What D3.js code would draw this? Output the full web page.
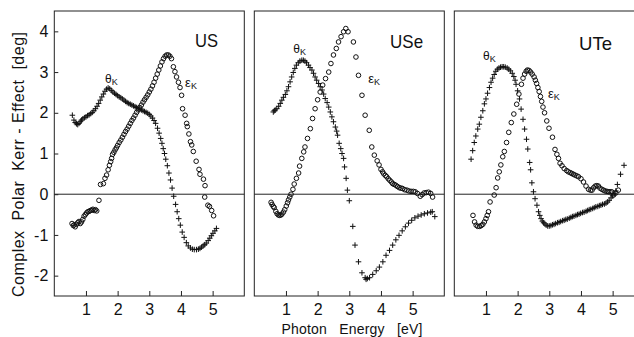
<!DOCTYPE html>
<html><head><meta charset="utf-8">
<script src="https://cdn.jsdelivr.net/npm/d3@7/dist/d3.min.js"></script>
<style>
body{margin:0;background:#fff}
svg{display:block}
text{font-family:"Liberation Sans",Arial,Helvetica,sans-serif;fill:#111}
</style>
</head><body><svg id="c" width="634" height="337"></svg>
<script>
// ---------------- data ----------------
const compounds = ["US", "USe", "UTe"];
const xTicks = [1, 2, 3, 4, 5];
const yTicks = [-2, -1, 0, 1, 2, 3, 4];
const yTickLabels = ["-2", "-1", "0", "1", "2", "3", "4"];

// US: Kerr rotation theta_K (+) and ellipticity eps_K (o), [eV, deg]
const usTheta = [[0.57,1.94],[0.62,1.82],[0.66,1.76],[0.70,1.73],[0.74,1.71],[0.78,1.74],[0.82,1.78],[0.86,1.82],[0.90,1.85],[0.95,1.88],[1.00,1.90],[1.05,1.93],[1.10,1.95],[1.15,1.98],[1.20,2.01],[1.25,2.05],[1.30,2.10],[1.35,2.16],[1.40,2.23],[1.45,2.31],[1.50,2.39],[1.55,2.46],[1.60,2.53],[1.65,2.58],[1.70,2.61],[1.75,2.59],[1.80,2.55],[1.85,2.51],[1.90,2.48],[1.95,2.45],[2.00,2.42],[2.05,2.39],[2.10,2.37],[2.15,2.34],[2.20,2.31],[2.25,2.28],[2.30,2.25],[2.35,2.23],[2.40,2.21],[2.45,2.19],[2.50,2.17],[2.55,2.15],[2.60,2.13],[2.65,2.11],[2.70,2.09],[2.75,2.07],[2.80,2.05],[2.85,2.03],[2.90,2.01],[2.95,1.99],[3.00,1.96],[3.05,1.92],[3.10,1.87],[3.15,1.81],[3.20,1.74],[3.26,1.62],[3.31,1.50],[3.36,1.37],[3.40,1.25],[3.44,1.12],[3.48,1.00],[3.52,0.86],[3.57,0.70],[3.62,0.52],[3.67,0.35],[3.72,0.15],[3.77,-0.05],[3.83,-0.25],[3.88,-0.43],[3.93,-0.60],[3.98,-0.76],[4.04,-0.93],[4.10,-1.06],[4.17,-1.19],[4.23,-1.27],[4.30,-1.32],[4.36,-1.35],[4.42,-1.36],[4.49,-1.36],[4.55,-1.35],[4.60,-1.33],[4.65,-1.30],[4.70,-1.27],[4.75,-1.24],[4.80,-1.20],[4.86,-1.14],[4.91,-1.08],[4.96,-1.02],[5.01,-0.96],[5.07,-0.90],[5.12,-0.84]];
const usEps = [[0.56,-0.72],[0.60,-0.77],[0.63,-0.75],[0.66,-0.80],[0.70,-0.74],[0.74,-0.70],[0.78,-0.67],[0.82,-0.72],[0.86,-0.68],[0.90,-0.62],[0.94,-0.54],[0.98,-0.50],[1.02,-0.46],[1.06,-0.43],[1.10,-0.42],[1.14,-0.40],[1.18,-0.39],[1.22,-0.37],[1.26,-0.40],[1.30,-0.38],[1.34,-0.41],[1.41,-0.15],[1.46,0.24],[1.55,0.26],[1.60,0.39],[1.65,0.47],[1.70,0.60],[1.74,0.71],[1.78,0.80],[1.81,0.88],[1.84,0.98],[1.88,1.03],[1.92,1.09],[1.96,1.14],[2.00,1.20],[2.05,1.27],[2.10,1.33],[2.15,1.40],[2.20,1.47],[2.25,1.54],[2.30,1.60],[2.35,1.67],[2.40,1.74],[2.45,1.81],[2.50,1.87],[2.55,1.94],[2.60,2.01],[2.65,2.07],[2.70,2.13],[2.75,2.19],[2.80,2.26],[2.85,2.32],[2.90,2.38],[2.95,2.44],[3.00,2.51],[3.05,2.58],[3.10,2.66],[3.15,2.75],[3.20,2.85],[3.25,2.95],[3.30,3.05],[3.35,3.15],[3.40,3.25],[3.45,3.33],[3.50,3.39],[3.55,3.42],[3.60,3.42],[3.65,3.39],[3.70,3.33],[3.76,3.13],[3.81,3.01],[3.86,2.88],[3.92,2.75],[3.97,2.62],[4.02,2.43],[4.05,2.10],[4.13,1.94],[4.18,1.74],[4.20,1.66],[4.25,1.48],[4.30,1.29],[4.34,1.21],[4.39,1.05],[4.48,0.81],[4.57,0.61],[4.60,0.49],[4.71,0.37],[4.76,0.21],[4.75,-0.07],[4.85,-0.27],[4.90,-0.30],[4.97,-0.40],[5.03,-0.53]];

// USe
const useTheta = [[0.60,2.02],[0.63,2.05],[0.66,2.07],[0.71,2.10],[0.77,2.16],[0.82,2.23],[0.87,2.31],[0.92,2.38],[0.98,2.45],[1.03,2.54],[1.08,2.64],[1.13,2.76],[1.18,2.88],[1.23,2.99],[1.28,3.09],[1.33,3.17],[1.39,3.23],[1.44,3.27],[1.50,3.29],[1.55,3.29],[1.60,3.27],[1.65,3.23],[1.71,3.17],[1.76,3.11],[1.82,3.05],[1.87,2.97],[1.92,2.88],[1.97,2.80],[2.03,2.72],[2.08,2.64],[2.14,2.56],[2.19,2.46],[2.24,2.35],[2.30,2.25],[2.35,2.14],[2.40,2.02],[2.45,1.90],[2.50,1.78],[2.56,1.65],[2.60,1.55],[2.63,1.45],[2.68,1.25],[2.73,1.12],[2.77,1.00],[2.82,0.88],[2.85,0.67],[2.90,0.39],[2.94,0.10],[3.00,-0.16],[3.11,-0.79],[3.18,-1.25],[3.29,-1.66],[3.40,-1.93],[3.50,-2.05],[3.53,-2.09],[3.57,-2.07],[3.64,-2.05],[3.74,-1.97],[3.85,-1.88],[3.95,-1.79],[4.06,-1.66],[4.16,-1.50],[4.27,-1.38],[4.37,-1.25],[4.47,-1.12],[4.57,-1.01],[4.67,-0.90],[4.77,-0.80],[4.87,-0.71],[4.97,-0.64],[5.07,-0.58],[5.17,-0.54],[5.27,-0.51],[5.37,-0.48],[5.47,-0.46],[5.57,-0.44],[5.62,-0.43],[5.70,-0.55]];
const useEps = [[0.53,-0.20],[0.56,-0.25],[0.60,-0.30],[0.63,-0.33],[0.68,-0.42],[0.72,-0.48],[0.76,-0.51],[0.80,-0.52],[0.84,-0.51],[0.87,-0.49],[0.92,-0.44],[0.96,-0.38],[1.01,-0.29],[1.05,-0.21],[1.08,-0.14],[1.12,-0.07],[1.16,0.00],[1.22,0.12],[1.26,0.25],[1.33,0.39],[1.40,0.52],[1.43,0.69],[1.50,0.88],[1.56,1.04],[1.60,1.16],[1.68,1.37],[1.77,1.61],[1.84,1.86],[1.92,2.10],[2.00,2.32],[2.08,2.51],[2.16,2.68],[2.25,2.84],[2.35,3.00],[2.42,3.21],[2.50,3.42],[2.59,3.58],[2.66,3.74],[2.74,3.87],[2.82,3.99],[2.89,4.07],[2.96,3.99],[3.13,3.74],[3.21,3.37],[3.29,2.92],[3.40,2.43],[3.50,1.94],[3.63,1.57],[3.71,1.16],[3.79,0.96],[3.88,0.82],[3.94,0.72],[4.00,0.61],[4.05,0.55],[4.09,0.50],[4.14,0.46],[4.18,0.43],[4.23,0.38],[4.28,0.34],[4.33,0.30],[4.37,0.26],[4.42,0.24],[4.47,0.22],[4.52,0.19],[4.58,0.16],[4.63,0.15],[4.68,0.14],[4.75,0.11],[4.82,0.10],[4.88,0.08],[4.95,0.07],[5.02,0.07],[5.08,0.06],[5.15,0.02],[5.24,-0.05],[5.30,-0.01],[5.36,0.03],[5.43,0.04],[5.50,0.05],[5.57,0.02],[5.63,-0.07]];

// UTe
const uteTheta = [[0.53,0.86],[0.58,1.07],[0.63,1.27],[0.68,1.43],[0.74,1.60],[0.79,1.72],[0.84,1.89],[0.90,2.05],[0.95,2.22],[1.00,2.34],[1.05,2.48],[1.11,2.62],[1.16,2.75],[1.21,2.85],[1.26,2.94],[1.31,3.02],[1.36,3.07],[1.41,3.10],[1.46,3.12],[1.51,3.13],[1.56,3.13],[1.61,3.12],[1.67,3.10],[1.72,3.07],[1.77,3.03],[1.83,2.97],[1.88,2.89],[1.92,2.80],[1.95,2.70],[2.00,2.54],[2.06,2.34],[2.11,2.09],[2.17,1.84],[2.22,1.60],[2.28,1.35],[2.32,1.11],[2.38,0.78],[2.41,0.60],[2.45,0.28],[2.50,0.06],[2.55,-0.11],[2.61,-0.27],[2.66,-0.43],[2.70,-0.52],[2.74,-0.60],[2.78,-0.66],[2.82,-0.70],[2.86,-0.73],[2.90,-0.76],[2.95,-0.78],[3.00,-0.78],[3.05,-0.77],[3.10,-0.75],[3.15,-0.74],[3.20,-0.72],[3.26,-0.70],[3.31,-0.69],[3.36,-0.67],[3.42,-0.65],[3.47,-0.64],[3.52,-0.62],[3.57,-0.61],[3.63,-0.59],[3.68,-0.57],[3.73,-0.55],[3.78,-0.54],[3.84,-0.52],[3.89,-0.50],[3.94,-0.49],[3.99,-0.47],[4.05,-0.45],[4.10,-0.44],[4.16,-0.42],[4.21,-0.40],[4.26,-0.38],[4.31,-0.37],[4.37,-0.35],[4.42,-0.33],[4.47,-0.31],[4.53,-0.30],[4.58,-0.28],[4.63,-0.27],[4.68,-0.25],[4.74,-0.24],[4.79,-0.22],[4.84,-0.19],[4.89,-0.15],[4.95,-0.09],[5.00,-0.04],[5.05,0.01],[5.10,0.08],[5.15,0.24],[5.25,0.49],[5.36,0.71]];
const uteEps = [[0.59,-0.52],[0.64,-0.68],[0.69,-0.76],[0.74,-0.79],[0.80,-0.79],[0.85,-0.77],[0.90,-0.74],[0.95,-0.68],[1.00,-0.60],[1.04,-0.52],[1.08,-0.43],[1.13,-0.19],[1.26,-0.02],[1.32,0.16],[1.37,0.40],[1.42,0.55],[1.47,0.72],[1.53,0.92],[1.58,1.05],[1.65,1.27],[1.72,1.52],[1.80,1.76],[1.88,1.97],[1.97,2.21],[2.04,2.46],[2.12,2.70],[2.17,2.85],[2.22,2.95],[2.27,3.02],[2.31,3.05],[2.36,3.04],[2.41,3.00],[2.46,2.95],[2.52,2.88],[2.56,2.80],[2.60,2.72],[2.64,2.62],[2.68,2.52],[2.72,2.40],[2.76,2.28],[2.80,2.14],[2.85,2.00],[2.92,1.80],[2.99,1.62],[3.10,1.40],[3.18,1.10],[3.24,0.98],[3.29,0.88],[3.34,0.76],[3.40,0.70],[3.47,0.63],[3.55,0.58],[3.60,0.55],[3.66,0.53],[3.71,0.51],[3.76,0.49],[3.81,0.47],[3.87,0.45],[3.92,0.43],[4.00,0.38],[4.08,0.30],[4.16,0.20],[4.24,0.12],[4.30,0.10],[4.35,0.10],[4.40,0.16],[4.45,0.20],[4.50,0.21],[4.55,0.20],[4.60,0.15],[4.66,0.12],[4.71,0.10],[4.76,0.08],[4.82,0.07],[4.87,0.06],[4.92,0.06],[4.97,0.06],[5.03,-0.02],[5.10,0.03],[5.18,0.10]];

const thetaSets = [usTheta, useTheta, uteTheta];
const epsSets = [usEps, useEps, uteEps];

// ---------------- layout ----------------
const svg = d3.select("#c");
const plotTop = 11, plotBottom = 296, panelW = 190, left0 = 54.3, step = 200;
const y = d3.scaleLinear().domain([-2.5, 4.5]).range([plotBottom, plotTop]);

// annotation anchors in data units (per panel)
const nameAnchor = [[5.17, 3.62], [5.33, 3.60], [4.98, 3.55]];
const thetaAnchor = [[1.60, 2.73], [1.23, 3.46], [0.91, 3.30]];
const epsAnchor = [[4.13, 2.63], [3.60, 2.73], [2.96, 2.36]];

const ink = "#111";

compounds.forEach((name, i) => {
  const x0 = left0 + i * step;
  const x = d3.scaleLinear().domain([0, 6]).range([x0, x0 + panelW]);
  const g = svg.append("g");

  // zero line
  g.append("line")
    .attr("x1", x(0)).attr("x2", x(6)).attr("y1", y(0)).attr("y2", y(0))
    .attr("stroke", "#222").attr("stroke-width", 1);

  // bottom axis (ticks inward)
  const ax = g.append("g").attr("transform", `translate(0,${plotBottom})`)
    .call(d3.axisBottom(x).tickValues(xTicks).tickSize(-5).tickPadding(8).tickFormat(d3.format("d")));
  ax.select(".domain").remove();
  ax.selectAll("line").attr("stroke", "#222");
  ax.selectAll("text").attr("font-size", 16).attr("fill", ink)
    .attr("font-family", '"Liberation Sans",Arial,sans-serif');

  if (i === 0) {
    const ay = g.append("g").attr("transform", `translate(${x0},0)`)
      .call(d3.axisLeft(y).tickValues(yTicks).tickSize(-4).tickPadding(6)
        .tickFormat((d, k) => yTickLabels[k]));
    ay.select(".domain").remove();
    ay.selectAll("line").attr("stroke", "#222");
    ay.selectAll("text").attr("font-size", 16).attr("fill", ink)
      .attr("font-family", '"Liberation Sans",Arial,sans-serif');
  }

  // theta_K : plus markers
  const s = 2.8;
  g.append("path")
    .attr("d", thetaSets[i].map(([a, b]) => {
      const px = x(a), py = y(b);
      return `M${px - s},${py}H${px + s}M${px},${py - s}V${py + s}`;
    }).join(""))
    .attr("fill", "none").attr("stroke", ink).attr("stroke-width", 1);

  // eps_K : open circles
  g.append("g").selectAll("circle").data(epsSets[i]).join("circle")
    .attr("cx", d => x(d[0])).attr("cy", d => y(d[1])).attr("r", 2.3)
    .attr("fill", "none").attr("stroke", ink).attr("stroke-width", 1);

  // frame
  g.append("rect")
    .attr("x", x(0)).attr("y", plotTop).attr("width", panelW).attr("height", plotBottom - plotTop)
    .attr("fill", "none").attr("stroke", "#222").attr("stroke-width", 1);

  // compound name
  g.append("text")
    .attr("x", x(nameAnchor[i][0])).attr("y", y(nameAnchor[i][1]))
    .attr("text-anchor", "end").attr("font-size", 19)
    .attr("textLength", name.length === 2 ? 23 : 33).attr("lengthAdjust", "spacingAndGlyphs")
    .text(name);

  // theta_K label
  const t = g.append("text").attr("x", x(thetaAnchor[i][0])).attr("y", y(thetaAnchor[i][1]))
    .attr("font-size", 12);
  t.append("tspan").text("θ");
  t.append("tspan").attr("font-size", 9).attr("dy", 2).text("K");

  // eps_K label
  const e = g.append("text").attr("x", x(epsAnchor[i][0])).attr("y", y(epsAnchor[i][1]))
    .attr("font-size", 13);
  e.append("tspan").text("ε");
  e.append("tspan").attr("font-size", 9).attr("dy", 2).text("K");
});

// axis titles
svg.append("text")
  .attr("transform", "translate(24,164.5) rotate(-90)")
  .attr("text-anchor", "middle").attr("font-size", 16)
  .attr("textLength", 265).attr("lengthAdjust", "spacing")
  .style("white-space", "pre")
  .text("Complex  Polar  Kerr - Effect  [deg]");

svg.append("text")
  .attr("x", 352).attr("y", 334)
  .attr("text-anchor", "middle").attr("font-size", 14)
  .attr("textLength", 141).attr("lengthAdjust", "spacing")
  .style("white-space", "pre")
  .text("Photon   Energy   [eV]");
</script></body></html>
